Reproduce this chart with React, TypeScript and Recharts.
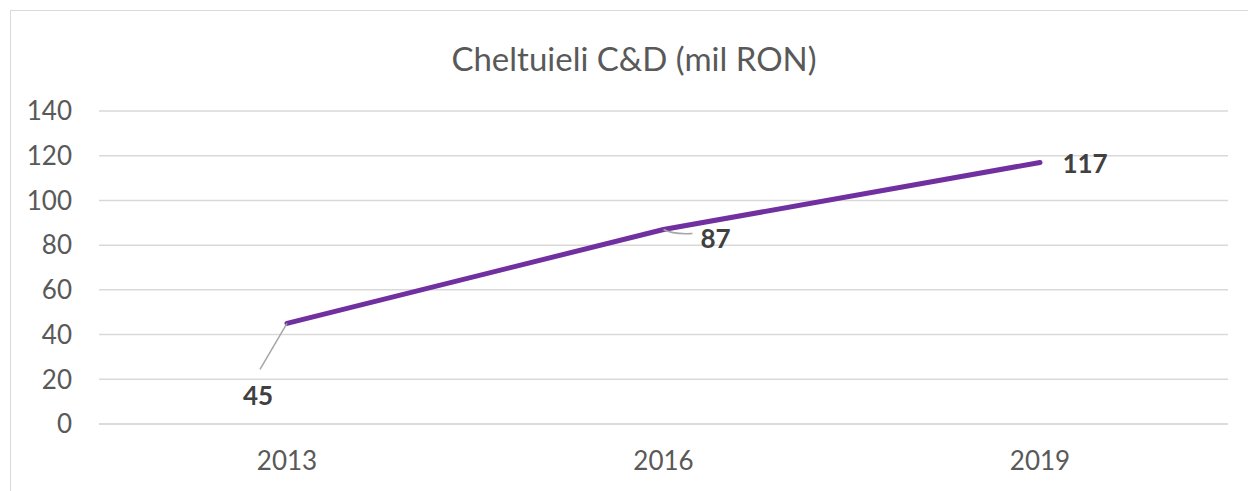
import React from 'react';
import { LineChart, Line, XAxis, YAxis, CartesianGrid, LabelList } from 'recharts';

// date din grafic
const years = ['2013', '2016', '2019'];
const spending = [45, 87, 117];
const yTicks = [0, 20, 40, 60, 80, 100, 120, 140];

const data = years.map((year, i) => ({ year, value: spending[i] }));

const FONT = 'Lato, Carlito, Calibri, sans-serif';

// poziția etichetelor față de punct + linia de legătură (doar stil)
const labelPlacement = [
  { dx: -29, dy: 72, leader: 'M0,0 L-27,46' },
  { dx: 52, dy: 9, leader: 'M0,0 Q9,5 29,4' },
  { dx: 45, dy: 1, leader: '' },
];

const ValueLabel = (props: any) => {
  const { x, y, value, index } = props;
  const p = labelPlacement[index] || { dx: 0, dy: -20, leader: '' };
  return (
    <g>
      {p.leader && (
        <path
          d={p.leader}
          transform={`translate(${x},${y})`}
          fill="none"
          stroke="#a6a6a6"
          strokeWidth={1.5}
        />
      )}
      <text
        x={x + p.dx}
        y={y + p.dy}
        textAnchor="middle"
        dominantBaseline="central"
        fill="#404040"
        fontFamily={FONT}
        fontWeight="bold"
        fontSize={26}
      >
        {value}
      </text>
    </g>
  );
};

export default function App() {
  return (
    <div
      style={{
        position: 'fixed',
        left: 0,
        top: 0,
        width: 1248,
        height: 491,
        overflow: 'hidden',
        background: '#fff',
      }}
    >
      <div
        style={{
          position: 'absolute',
          left: 10,
          top: 10,
          width: 1300,
          height: 600,
          border: '1.5px solid #d9d9d9',
        }}
      />
      <div
        style={{
          position: 'absolute',
          left: 0,
          width: 1268,
          top: 38,
          textAlign: 'center',
          fontFamily: FONT,
          fontSize: 33,
          color: '#595959',
          lineHeight: '40px',
        }}
      >
        Cheltuieli C&amp;D (mil RON)
      </div>
      <div style={{ position: 'absolute', left: 0, top: 0 }}>
        <LineChart
          width={1248}
          height={491}
          data={data}
          margin={{ top: 111, right: 20, bottom: 0, left: 0 }}
        >
          <CartesianGrid vertical={false} stroke="#d9d9d9" strokeWidth={1.5} />
          <XAxis
            dataKey="year"
            height={67}
            padding={{ left: 188, right: 188 }}
            axisLine={{ stroke: '#d9d9d9', strokeWidth: 1.5 }}
            tickLine={false}
            tickSize={0}
            tickMargin={28}
            tick={{ fill: '#595959', fontSize: 26, fontFamily: FONT }}
          />
          <YAxis
            width={99}
            domain={[0, 140]}
            ticks={yTicks}
            axisLine={false}
            tickLine={false}
            tickSize={0}
            tickMargin={27}
            tick={{ fill: '#595959', fontSize: 26, fontFamily: FONT }}
          />
          <Line
            type="linear"
            dataKey="value"
            stroke="#7030a0"
            strokeWidth={5}
            strokeLinecap="round"
            dot={false}
            activeDot={false}
            isAnimationActive={false}
          >
            <LabelList dataKey="value" content={<ValueLabel />} />
          </Line>
        </LineChart>
      </div>
    </div>
  );
}
